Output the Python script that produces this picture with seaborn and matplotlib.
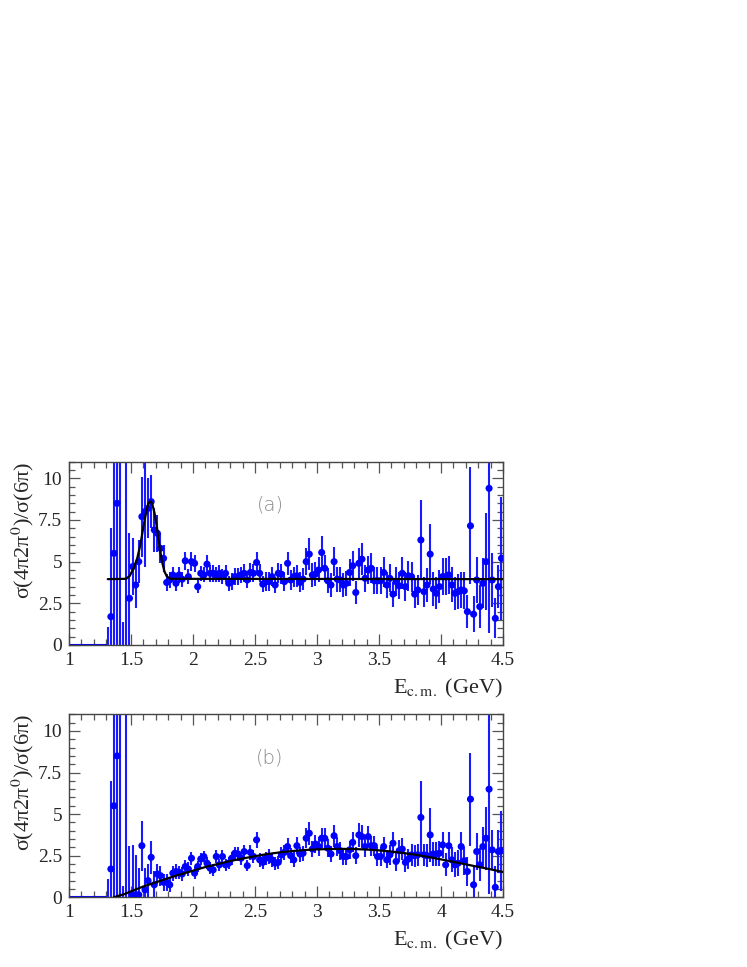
#!/usr/bin/env python3
"""Ratio sigma(4pi2pi0)/sigma(6pi) vs E_cm, two panels (a) peak fit, (b) smooth fit."""
import matplotlib
matplotlib.use("Agg")
import matplotlib.pyplot as plt
from matplotlib.ticker import MultipleLocator
import pandas as pd
import seaborn as sns

# ---- data ----
E_BINS = [
    1.3125, 1.3375, 1.3625, 1.3875, 1.4125, 1.4375, 1.4625, 1.4875,
    1.5125, 1.5375, 1.5625, 1.5875, 1.6125, 1.6375, 1.6625, 1.6875,
    1.7125, 1.7375, 1.7625, 1.7875, 1.8125, 1.8375, 1.8625, 1.8875,
    1.9125, 1.9375, 1.9625, 1.9875, 2.0125, 2.0375, 2.0625, 2.0875,
    2.1125, 2.1375, 2.1625, 2.1875, 2.2125, 2.2375, 2.2625, 2.2875,
    2.3125, 2.3375, 2.3625, 2.3875, 2.4125, 2.4375, 2.4625, 2.4875,
    2.5125, 2.5375, 2.5625, 2.5875, 2.6125, 2.6375, 2.6625, 2.6875,
    2.7125, 2.7375, 2.7625, 2.7875, 2.8125, 2.8375, 2.8625, 2.8875,
    2.9125, 2.9375, 2.9625, 2.9875, 3.0125, 3.0375, 3.0625, 3.0875,
    3.1125, 3.1375, 3.1625, 3.1875, 3.2125, 3.2375, 3.2625, 3.2875,
    3.3125, 3.3375, 3.3625, 3.3875, 3.4125, 3.4375, 3.4625, 3.4875,
    3.5125, 3.5375, 3.5625, 3.5875, 3.6125, 3.6375, 3.6625, 3.6875,
    3.7125, 3.7375, 3.7625, 3.7875, 3.8125, 3.8375, 3.8625, 3.8875,
    3.9125, 3.9375, 3.9625, 3.9875, 4.0125, 4.0375, 4.0625, 4.0875,
    4.1125, 4.1375, 4.1625, 4.1875, 4.2125, 4.2375, 4.2625, 4.2875,
    4.3125, 4.3375, 4.3625, 4.3875, 4.4125, 4.4375, 4.4625, 4.4875,
]

RATIO_A = [
    -0.4, 1.7, 5.5, 8.5, 12.0, -1.0, -2.0, 2.8,
    4.7, 3.6, 5.0, 7.7, 8.0, 8.2, 8.6, 6.9,
    6.7, 5.8, 5.2, 3.75, 3.9, 4.2, 3.7, 4.2,
    3.95, 5.05, 4.1, 5.0, 4.9, 3.5, 4.3, 4.2,
    4.85, 4.3, 4.3, 4.2, 4.3, 4.1, 4.3, 3.7,
    3.8, 4.1, 4.1, 4.2, 4.3, 3.9, 4.35, 4.3,
    4.95, 4.3, 3.65, 3.8, 3.8, 4.1, 3.6, 4.3,
    4.25, 3.8, 4.9, 3.9, 4.1, 4.15, 3.75, 3.95,
    5.0, 5.45, 4.2, 4.25, 4.5, 5.55, 4.6, 3.85,
    3.6, 5.0, 3.95, 3.9, 3.6, 3.7, 4.35, 4.75,
    3.15, 4.9, 5.15, 4.0, 4.5, 4.6, 3.85, 3.85,
    3.85, 4.35, 3.6, 4.0, 3.05, 3.8, 3.55, 4.3,
    3.5, 4.15, 4.1, 3.05, 3.3, 6.3, 3.2, 3.6,
    5.45, 3.35, 3.1, 3.5, 4.1, 4.1, 4.2, 3.6,
    3.1, 3.2, 3.3, 3.25, 2.0, 7.15, 1.85, 3.9,
    2.3, 3.7, 5.0, 9.4, 3.9, 1.6, 3.5, 5.2,
]
ERR_A = [
    1.5, 5.3, 9.0, 10.0, 14.0, 2.4, 14.0, 3.9,
    1.7, 1.4, 1.3, 2.4, 3.3, 1.8, 1.6, 1.3,
    1.1, 0.9, 0.8, 0.5, 0.5, 0.45, 0.45, 0.5,
    0.45, 0.55, 0.45, 0.55, 0.5, 0.4, 0.45, 0.45,
    0.55, 0.5, 0.5, 0.45, 0.5, 0.45, 0.5, 0.45,
    0.5, 0.5, 0.5, 0.5, 0.55, 0.5, 0.55, 0.55,
    0.6, 0.55, 0.5, 0.55, 0.55, 0.55, 0.5, 0.6,
    0.6, 0.55, 0.7, 0.6, 0.6, 0.65, 0.6, 0.65,
    0.8, 0.95, 0.7, 0.7, 0.75, 1.0, 0.8, 0.75,
    0.7, 0.85, 0.75, 0.75, 0.7, 0.75, 0.8, 0.9,
    0.7, 0.9, 0.95, 0.8, 0.85, 0.9, 0.8, 0.8,
    0.8, 0.9, 0.8, 0.85, 0.75, 0.85, 0.8, 0.95,
    0.85, 0.9, 0.9, 0.85, 0.9, 2.4, 0.9, 1.0,
    1.8, 1.0, 0.95, 1.0, 1.1, 1.1, 1.15, 1.05,
    1.0, 1.05, 1.1, 1.1, 1.0, 3.5, 1.1, 1.4,
    1.3, 1.5, 2.9, 8.7, 1.6, 1.2, 1.3, 3.7,
]

RATIO_B = [
    -0.4, 1.7, 5.5, 8.5, 12.0, -0.8, -2.0, -0.5,
    0.15, 0.15, 0.15, 3.1, 0.45, 1.0, 2.4, 0.75,
    1.4, 1.3, 0.9, 0.9, 0.75, 1.45, 1.55, 1.5,
    1.4, 1.85, 1.7, 2.35, 1.45, 1.85, 2.3, 2.45,
    2.05, 1.75, 1.65, 2.45, 1.95, 2.45, 1.95, 2.05,
    2.35, 2.65, 2.6, 2.35, 2.75, 1.9, 2.7, 2.45,
    3.45, 2.25, 2.1, 2.35, 2.45, 2.25, 2.05, 2.1,
    2.55, 2.7, 3.05, 2.5, 2.25, 3.1, 2.6, 2.65,
    3.55, 3.85, 2.9, 3.2, 3.05, 3.55, 3.55, 2.95,
    2.6, 3.7, 3.05, 2.8, 2.45, 2.45, 2.85, 3.3,
    2.5, 3.75, 3.65, 3.05, 3.65, 3.1, 3.1, 2.45,
    2.45, 3.05, 2.25, 2.55, 3.25, 2.15, 2.8, 2.9,
    2.1, 2.3, 2.55, 2.5, 2.55, 4.8, 2.55, 2.5,
    3.75, 2.6, 2.6, 2.65, 3.15, 1.95, 3.1, 2.25,
    1.95, 2.05, 3.05, 2.2, 1.55, 5.9, 0.75, 2.75,
    1.95, 3.05, 3.55, 6.5, 2.85, 0.6, 2.75, 2.8,
]
ERR_B = [
    1.5, 5.3, 9.0, 10.0, 14.0, 1.5, 14.0, 3.6,
    3.0, 2.4, 1.6, 1.5, 1.3, 1.0, 1.0, 0.8,
    0.6, 0.6, 0.5, 0.5, 0.45, 0.45, 0.45, 0.4,
    0.4, 0.4, 0.4, 0.4, 0.35, 0.35, 0.35, 0.35,
    0.35, 0.35, 0.35, 0.4, 0.35, 0.4, 0.35, 0.35,
    0.4, 0.4, 0.4, 0.4, 0.4, 0.35, 0.45, 0.4,
    0.5, 0.4, 0.4, 0.4, 0.45, 0.4, 0.4, 0.4,
    0.45, 0.45, 0.5, 0.45, 0.45, 0.5, 0.45, 0.45,
    0.6, 0.7, 0.5, 0.55, 0.55, 0.6, 0.6, 0.55,
    0.5, 0.65, 0.55, 0.55, 0.5, 0.5, 0.55, 0.6,
    0.5, 0.7, 0.7, 0.6, 0.65, 0.6, 0.6, 0.55,
    0.55, 0.6, 0.5, 0.6, 0.65, 0.55, 0.65, 0.65,
    0.6, 0.6, 0.65, 0.65, 0.65, 2.2, 0.65, 0.7,
    1.6, 0.7, 0.7, 0.75, 0.8, 0.7, 0.8, 0.75,
    0.75, 0.8, 0.9, 0.85, 0.9, 2.8, 1.2, 1.1,
    1.0, 1.2, 1.9, 6.3, 1.2, 1.3, 1.3, 2.4,
]

# fit curves
FIT_A_E = [1.3125, 1.46, 1.49, 1.52, 1.55, 1.575, 1.60, 1.62, 1.64, 1.655,
           1.67, 1.69, 1.71, 1.73, 1.75, 1.77, 1.79, 1.82, 4.5]
FIT_A_R = [3.95, 3.97, 4.15, 4.6, 5.2, 6.0, 7.1, 7.9, 8.5, 8.62,
           8.5, 7.9, 7.0, 5.9, 5.0, 4.4, 4.1, 3.97, 3.95]
FIT_B_E = [1.36, 1.45, 1.52, 1.6, 1.7, 1.8, 1.9, 2.0, 2.1, 2.2, 2.3, 2.4, 2.5,
           2.6, 2.7, 2.8, 2.9, 3.0, 3.1, 3.2, 3.3, 3.4, 3.5, 3.6, 3.7, 3.8,
           3.9, 4.0, 4.1, 4.2, 4.3, 4.4, 4.5]
FIT_B_R = [0.0, 0.2, 0.42, 0.65, 0.9, 1.15, 1.38, 1.6, 1.82, 2.0, 2.18, 2.33, 2.47,
           2.6, 2.7, 2.78, 2.84, 2.88, 2.9, 2.91, 2.9, 2.87, 2.82, 2.75, 2.66, 2.55,
           2.42, 2.28, 2.13, 1.98, 1.83, 1.68, 1.52]

# empty bins below threshold (drawn at zero)
EMPTY_E = [1.0, 1.3]
EMPTY_R = [0.0, 0.0]

PANELS = [("(a)", RATIO_A, ERR_A, FIT_A_E, FIT_A_R),
          ("(b)", RATIO_B, ERR_B, FIT_B_E, FIT_B_R)]

sns.set_style("ticks")
plt.rcParams["font.family"] = ["Liberation Serif", "DejaVu Serif"]
plt.rcParams["mathtext.fontset"] = "stix"

fig = plt.figure(figsize=(7.47, 9.67), dpi=100)
boxes = [[0.0924, 0.3330, 0.5810, 0.1896],
         [0.0924, 0.0721, 0.5810, 0.1892]]

for box, (tag, vals, errs, fe, fr) in zip(boxes, PANELS):
    ax = fig.add_axes(box)
    df = pd.DataFrame({"E": E_BINS, "r": vals, "err": errs})

    ax.errorbar(df["E"], df["r"], yerr=df["err"], fmt="none",
                ecolor="#1a1aff", elinewidth=1.5, capsize=0, zorder=2)
    sns.scatterplot(data=df, x="E", y="r", ax=ax, color="#0000ff", s=26,
                    edgecolor="none", zorder=3, legend=False)
    sns.lineplot(x=EMPTY_E, y=EMPTY_R, ax=ax, color="#0000ff", linewidth=1.5,
                 zorder=2)
    sns.lineplot(x=fe, y=fr, ax=ax, color="black", linewidth=1.6,
                 sort=False, estimator=None, zorder=4)

    ax.text(2.62, 8.4, tag, fontsize=14, color="#8a8a8a", family="DejaVu Sans",
            fontweight="light", ha="center", va="center")

    ax.set_xlim(1, 4.5)
    ax.set_ylim(0, 11)
    ax.xaxis.set_major_locator(MultipleLocator(0.5))
    ax.xaxis.set_minor_locator(MultipleLocator(0.1))
    ax.yaxis.set_major_locator(MultipleLocator(2.5))
    ax.yaxis.set_minor_locator(MultipleLocator(0.5))
    ax.set_xticks([1, 1.5, 2, 2.5, 3, 3.5, 4, 4.5])
    ax.set_xticklabels(["1", "1.5", "2", "2.5", "3", "3.5", "4", "4.5"])
    ax.set_yticks([0, 2.5, 5, 7.5, 10])
    ax.set_yticklabels(["0", "2.5", "5", "7.5", "10"])
    ax.tick_params(which="both", direction="in", top=True, right=True,
                   color="#555555", labelsize=14, width=0.9)
    ax.tick_params(which="major", length=8, pad=5)
    ax.tick_params(which="minor", length=4.5)
    for sp in ax.spines.values():
        sp.set_color("#444444")
        sp.set_linewidth(1.0)

    ax.set_ylabel("σ(4π2π$^{0}$)/σ(6π)", fontsize=16, loc="top")
    ax.yaxis.set_label_coords(-0.075, 1.0)
    ax.set_xlabel(r"E$_{\rm c.m.}$ (GeV)", fontsize=16, loc="right")
    ax.xaxis.set_label_coords(1.0, -0.175)

fig.savefig("out.png", dpi=100)
